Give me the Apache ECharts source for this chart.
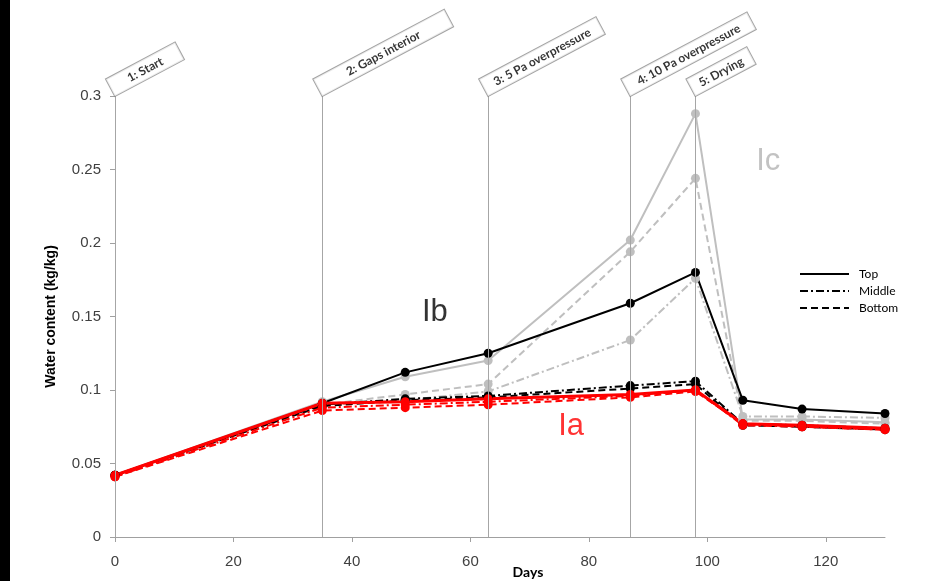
<!DOCTYPE html>
<html>
<head>
<meta charset="utf-8">
<script src="https://cdn.jsdelivr.net/npm/echarts@6/dist/echarts.min.js"></script>
<style>html,body{margin:0;padding:0;background:#fff;}#c{width:950px;height:581px;}</style>
</head>
<body>
<div id="c"></div>
<script>
// ---- data ----
const days = [0, 35, 49, 63, 87, 98, 106, 116, 130];

const iaTop    = [0.042, 0.091, 0.092, 0.094, 0.097, 0.100, 0.077, 0.076, 0.074];
const iaMiddle = [0.041, 0.088, 0.090, 0.092, 0.096, 0.100, 0.076, 0.075, 0.073];
const iaBottom = [0.041, 0.086, 0.088, 0.090, 0.095, 0.099, 0.077, 0.075, 0.073];

const ibTop    = [0.042, 0.091, 0.112, 0.125, 0.159, 0.180, 0.093, 0.087, 0.084];
const ibMiddle = [0.042, 0.090, 0.094, 0.096, 0.103, 0.106, 0.077, 0.076, 0.074];
const ibBottom = [0.042, 0.089, 0.093, 0.095, 0.101, 0.104, 0.076, 0.075, 0.073];

const icTop    = [0.042, 0.092, 0.109, 0.120, 0.202, 0.288, 0.080, 0.080, 0.078];
const icMiddle = [0.041, 0.090, 0.093, 0.099, 0.134, 0.176, 0.082, 0.082, 0.081];
const icBottom = [0.041, 0.090, 0.097, 0.104, 0.194, 0.244, 0.079, 0.079, 0.077];

const phaseDays  = [0, 35, 63, 87, 98];
const phaseNames = ['1: Start', '2: Gaps interior', '3: 5 Pa overpressure', '4: 10 Pa overpressure', '5: Drying'];

const groupNames = ['Ia', 'Ib', 'Ic'];
const groupAt    = [[77, 0.0754], [54, 0.153], [110.3, 0.2553]];

const xTicks = [0, 20, 40, 60, 80, 100, 120];
const legendNames = ['Top', 'Middle', 'Bottom'];

// ---- styles ----
const RED = '#ff0000', BLACK = '#000000', GRAY = '#bfbfbf';
const SOLID = 'solid', DASHDOT = [8, 3, 2, 3], DASH = [7, 4];
const boxWidths = [78, 148, 132, 142, 68];
const groupColors = [RED, BLACK, '#b3b3b3'];

function line(name, vals, color, type, width) {
  return {
    name: name, type: 'line',
    data: days.map((d, i) => [d, vals[i]]),
    symbol: 'circle', symbolSize: 9,
    itemStyle: { color: color },
    lineStyle: { color: color, type: type, width: width },
    silent: true, animation: false
  };
}

const series = [
  line('Ic top', icTop, GRAY, SOLID, 2),
  line('Ic middle', icMiddle, GRAY, DASHDOT, 2),
  line('Ic bottom', icBottom, GRAY, DASH, 2),
  line('Ib top', ibTop, BLACK, SOLID, 2),
  line('Ib middle', ibMiddle, BLACK, DASHDOT, 2),
  line('Ib bottom', ibBottom, BLACK, DASH, 2),
  line('Ia top', iaTop, RED, SOLID, 3),
  line('Ia middle', iaMiddle, RED, DASHDOT, 2),
  line('Ia bottom', iaBottom, RED, DASH, 2),
  // phase lines
  {
    type: 'line', data: [], silent: true, animation: false, z: 1,
    markLine: {
      silent: true, symbol: 'none', animation: false,
      lineStyle: { color: '#a6a6a6', width: 1, type: 'solid' },
      label: { show: false },
      data: phaseDays.map(d => ({ xAxis: d }))
    }
  },
  // phase labels
  {
    type: 'scatter', silent: true, animation: false, symbolSize: 0, z: 20,
    data: phaseDays.map((d, i) => ({
      value: [d, 0.3],
      label: { formatter: '{t|' + phaseNames[i] + '}', rich: { t: { width: boxWidths[i], align: 'center', fontFamily: 'Lato', fontWeight: 'bold', fontSize: 12, color: '#000' } } }
    })),
    label: {
      show: true, position: [0, 0], align: 'left', verticalAlign: 'bottom', rotate: 28,
      backgroundColor: '#fff', borderColor: '#8c8c8c', borderWidth: 1,
      padding: [4, 0, 3, 0]
    },
    clip: false
  },
  // group annotations
  {
    type: 'scatter', silent: true, animation: false, symbolSize: 0, z: 20,
    data: groupAt.map((p, i) => ({
      value: p,
      label: { formatter: groupNames[i], color: groupColors[i] }
    })),
    label: { show: true, position: 'inside', fontFamily: 'Liberation Sans, Arial', fontSize: 31 }
  },
  // legend dummies
  { name: 'Top', type: 'line', data: [], symbol: 'none', symbolSize: 0, itemStyle: { color: BLACK }, lineStyle: { color: BLACK, width: 2, type: SOLID } },
  { name: 'Middle', type: 'line', data: [], symbol: 'none', symbolSize: 0, itemStyle: { color: BLACK }, lineStyle: { color: BLACK, width: 2, type: DASHDOT } },
  { name: 'Bottom', type: 'line', data: [], symbol: 'none', symbolSize: 0, itemStyle: { color: BLACK }, lineStyle: { color: BLACK, width: 2, type: DASH } }
];

const chart = echarts.init(document.getElementById('c'), null, { renderer: 'canvas' });
chart.setOption({
  backgroundColor: '#fff',
  animation: false,
  graphic: [{ type: 'rect', left: 0, top: 0, shape: { width: 10, height: 581 }, style: { fill: '#000' }, silent: true }],
  grid: { left: 115, right: 65, top: 96, bottom: 44, containLabel: false, outerBoundsMode: 'none' },
  legend: {
    data: legendNames, orient: 'vertical', left: 794, top: 263,
    itemWidth: 49, itemHeight: 12, itemGap: 5,
    selectedMode: false,
    itemStyle: { opacity: 0 },
    textStyle: { fontFamily: 'Lato', fontSize: 12, color: '#000', padding: [0, 0, 0, 5] }
  },
  xAxis: {
    type: 'value', min: 0, max: 130, interval: 20,
    name: 'Days', nameLocation: 'middle', nameGap: 28, nameMoveOverlap: false,
    nameTextStyle: { fontFamily: 'Lato', fontWeight: 'bold', fontSize: 14, color: '#000', padding: [0, 0, 0, 56] },
    splitLine: { show: false },
    axisLine: { lineStyle: { color: '#a0a0a0', width: 1 } },
    axisTick: { show: true, inside: false, length: 5, customValues: xTicks, lineStyle: { color: '#a0a0a0' } },
    axisLabel: { customValues: xTicks, margin: 17, fontFamily: 'Liberation Sans, Arial', fontSize: 15, color: '#404040' }
  },
  yAxis: {
    type: 'value', min: 0, max: 0.3, interval: 0.05,
    name: 'Water content (kg/kg)', nameLocation: 'middle', nameGap: 57, nameMoveOverlap: false,
    nameTextStyle: { fontFamily: 'Liberation Sans, Arial', fontWeight: 'bold', fontSize: 14, color: '#000' },
    splitLine: { show: false },
    axisLine: { show: true, lineStyle: { color: '#a0a0a0', width: 1 } },
    axisTick: { show: true, inside: false, length: 5, lineStyle: { color: '#a0a0a0' } },
    axisLabel: { margin: 14, fontFamily: 'Liberation Sans, Arial', fontSize: 15, color: '#404040',
      formatter: v => String(Math.round(v * 100) / 100) }
  },
  series: series
});
</script>
</body>
</html>
